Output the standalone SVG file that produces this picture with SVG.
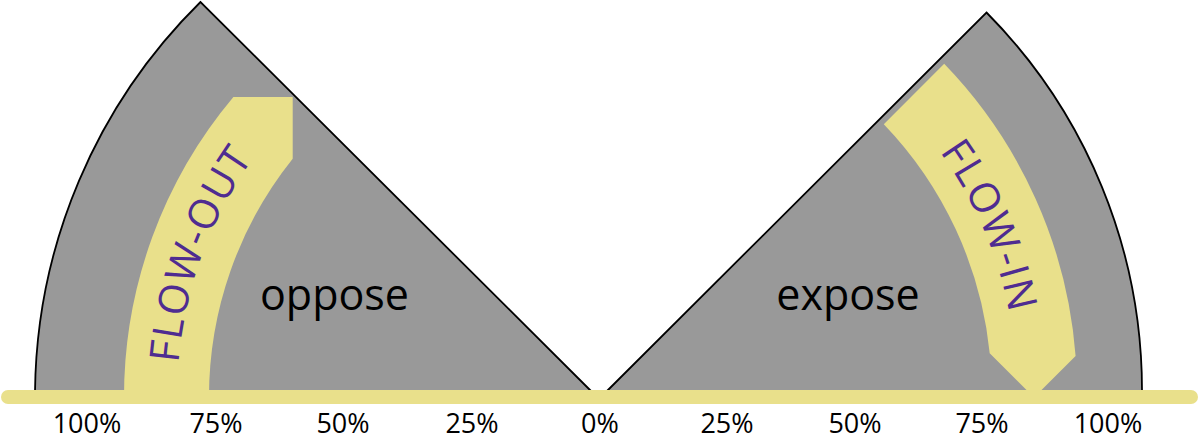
<svg xmlns="http://www.w3.org/2000/svg" xmlns:xlink="http://www.w3.org/1999/xlink" width="1199" height="436" viewBox="0 0 1199 436">
  <style>
    .sector { fill: #999999; stroke: #000000; stroke-width: 1.8; stroke-linejoin: miter; }
    .band { fill: #e9e08b; stroke: none; }
    .flow { font-family: "Open Sans", "Noto Sans", sans-serif; font-size: 41px; fill: #4f2c91; letter-spacing: 1.5px; }
    .word { font-family: "Open Sans", "Noto Sans", sans-serif; font-size: 43px; fill: #000000; text-anchor: middle; }
    .pct { font-family: "Open Sans", "Noto Sans", sans-serif; font-size: 27px; fill: #000000; text-anchor: middle; }
  </style>
  <defs>
    <path id="arcOut" d="M178,368.2 A413,413 0 0 1 298,105"/>
    <path id="arcIn" d="M920.6,127.2 A412,412 0 0 1 1015.4,356.1"/>
  </defs>

  <g id="oppose-sector">
    <path class="sector" d="M592,392 L200.5,2 A555,555 0 0 0 35,392 Z"/>
  </g>
  <g id="expose-sector">
    <path class="sector" d="M606,392 L986.5,12.5 A537,537 0 0 1 1142,392 Z"/>
  </g>

  <g id="connectors">
    <g id="flow-out">
      <path class="band" d="M124,397 A466,466 0 0 1 233.4,97 L292.7,97 L292.7,158.7 A381,381 0 0 0 209,397 Z"/>
      <text class="flow"><textPath xlink:href="#arcOut" href="#arcOut" startOffset="5">FLOW-OUT</textPath></text>
    </g>
    <g id="flow-in">
      <path class="band" d="M883.8,124.2 L944.2,63.8 A472,472 0 0 1 1075.6,356 L1034,397.6 L989.7,353.3 A386.6,386.6 0 0 0 883.8,124.2 Z"/>
      <text class="flow"><textPath xlink:href="#arcIn" href="#arcIn" startOffset="31">FLOW-IN</textPath></text>
    </g>
  </g>

  <g id="axis">
    <line x1="8" y1="397" x2="1191" y2="397" stroke="#e9e08b" stroke-width="14" stroke-linecap="round"/>
  </g>

  <g id="labels">
    <text class="word" x="334.5" y="310">oppose</text>
    <text class="word" x="848" y="310">expose</text>
    <text class="pct" x="87" y="433">100%</text>
    <text class="pct" x="216" y="433">75%</text>
    <text class="pct" x="343" y="433">50%</text>
    <text class="pct" x="472" y="433">25%</text>
    <text class="pct" x="600" y="433">0%</text>
    <text class="pct" x="727" y="433">25%</text>
    <text class="pct" x="855" y="433">50%</text>
    <text class="pct" x="982" y="433">75%</text>
    <text class="pct" x="1108" y="433">100%</text>
  </g>
</svg>
